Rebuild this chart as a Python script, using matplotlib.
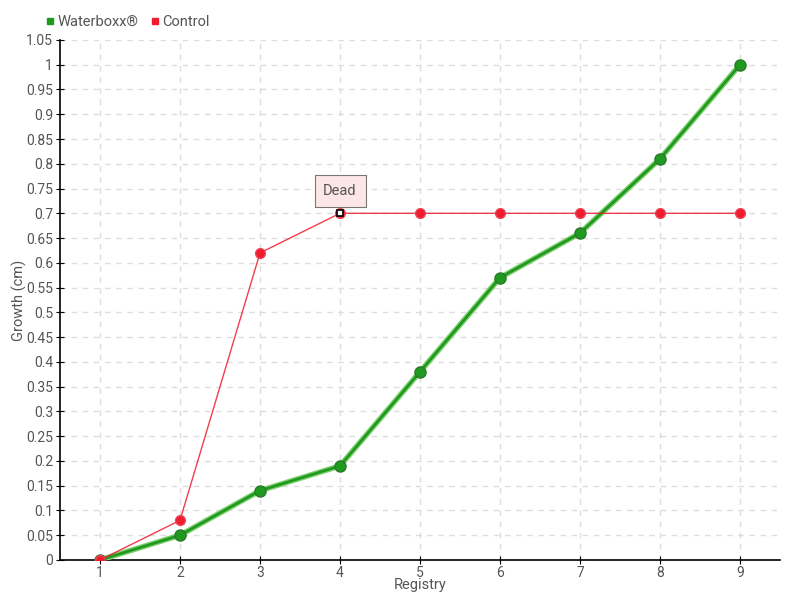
import numpy as np
import matplotlib
matplotlib.use("Agg")
import matplotlib.pyplot as plt
from matplotlib.lines import Line2D
from matplotlib.ticker import FuncFormatter, MultipleLocator

# data
registry = [1, 2, 3, 4, 5, 6, 7, 8, 9]
waterboxx = [0, 0.05, 0.14, 0.19, 0.38, 0.57, 0.66, 0.81, 1.0]
control = [0, 0.08, 0.62, 0.70, 0.70, 0.70, 0.70, 0.70, 0.70]
dead_index = 3

green = "#1f9a1f"
red = "#ee1c2e"
text_col = "#555555"

plt.rcParams['font.family'] = ['Roboto', 'DejaVu Sans']

fig = plt.figure(figsize=(8, 6), dpi=100)
ax = fig.add_axes([0.075, 0.0667, 0.9, 0.8667])

# waterboxx line with light halo
ax.plot(registry, waterboxx, color="#7fcf6f", lw=4.0, zorder=3, solid_capstyle="round")
ax.plot(registry, waterboxx, color=green, lw=2.0, marker="o", ms=8,
        mfc=green, mec="#2b7a2b", mew=1, zorder=4)
ax.plot(registry, control, color=red, lw=1, alpha=0.85, zorder=5)
ax.plot(registry, control, ls="none", marker="o", ms=7, mfc=red, mec="#f04050", zorder=6)

# dead marker
ax.plot(registry[dead_index], control[dead_index], marker="s", ms=5, mfc="white",
        mec="black", mew=1.2, zorder=7)
ax.annotate("Dead", xy=(registry[dead_index], control[dead_index]),
            xytext=(0, 16), textcoords="offset points", ha="center", va="center",
            fontsize=10.5, color=text_col,
            bbox=dict(boxstyle="square,pad=0.6", fc="#fde6e6", ec="#777777", lw=0.8),
            zorder=8)

ax.set_xlim(0.5, 9.5)
ax.set_ylim(0, 1.05)
ax.set_xticks(registry)
ax.yaxis.set_major_locator(MultipleLocator(0.05))
ax.yaxis.set_major_formatter(FuncFormatter(lambda v, p: ("%.2f" % v).rstrip("0").rstrip(".")))

ax.grid(True, color="#dddddd", ls=(0, (4, 4)), lw=1)
ax.set_axisbelow(True)
for s in ["top", "right"]:
    ax.spines[s].set_visible(False)
ax.spines["left"].set_linewidth(1.2)
ax.spines["bottom"].set_linewidth(1.2)
ax.tick_params(direction="inout", length=6, colors="black", labelcolor=text_col, labelsize=10)
ax.tick_params(axis="y", pad=2)
ax.tick_params(axis="x", pad=1)

ax.set_xlabel("Registry", color=text_col, fontsize=10.5, labelpad=-1)
ax.set_ylabel("Growth (cm)", color=text_col, fontsize=10.5, labelpad=-1)

# legend
handles = [Line2D([], [], ls="none", marker="s", ms=5, color=green),
           Line2D([], [], ls="none", marker="s", ms=5, color=red)]
fig.legend(handles, ["Waterboxx\u00ae", "Control"], loc="center left",
           bbox_to_anchor=(0.058, 0.963), ncol=2, frameon=False,
           handlelength=0.5, handletextpad=0.25, columnspacing=0.9,
           borderaxespad=0, borderpad=0, labelcolor=text_col, fontsize=10.5)

fig.savefig("out.png", dpi=100)
